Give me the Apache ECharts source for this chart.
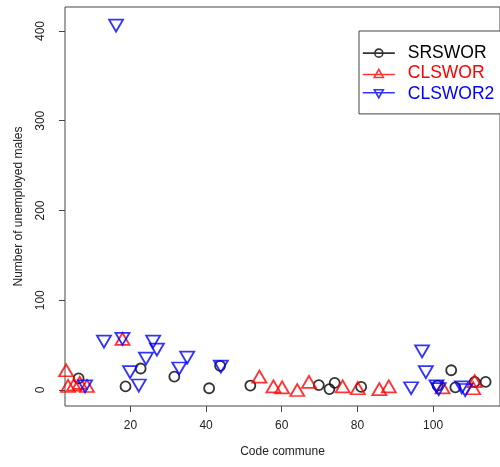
<!DOCTYPE html>
<html>
<head>
<meta charset="utf-8">
<script src="https://cdn.jsdelivr.net/npm/echarts@6/dist/echarts.min.js"></script>
<style>
  html, body { margin: 0; padding: 0; background: #fff; }
  #chart { width: 500px; height: 467px; }
</style>
</head>
<body>
<div id="chart"></div>
<script>
// ---- data (code commune, number of unemployed males) ----
var seriesNames = ['SRSWOR', 'CLSWOR', 'CLSWOR2'];
var srswor = [
    [6.3, 13], [18.7, 4], [22.7, 24], [31.6, 15], [40.8, 2], [43.7, 27],
    [51.7, 5], [69.8, 5.5], [72.6, 1], [74, 8], [81, 3.5], [101.2, 5],
    [104.8, 22], [105.9, 3], [111, 9], [113.9, 9]
];
var clswor = [
    [3.0, 22], [3.5, 4.5], [5.1, 6], [6.6, 8], [8.5, 4.5], [17.9, 57],
    [54.1, 15], [57.8, 4], [60.1, 3], [64.1, 0], [67.2, 9], [76.1, 4],
    [80.1, 2], [85.8, 1], [88.3, 4], [102.5, 3], [110.6, 2], [111, 10]
];
var clswor2 = [
    [16.2, 406], [13, 54], [17.9, 57], [8, 4], [19.9, 20], [22.2, 5],
    [24.1, 35], [26, 54], [27, 45], [32.9, 24], [35, 36], [43.9, 26],
    [94.2, 2], [97.1, 43], [98.1, 20], [100.9, 4], [101.5, 1], [107.6, 3],
    [108.5, 0]
];
var xTicks = [20, 40, 60, 80, 100];
var yTicks = [0, 100, 200, 300, 400];

var colors = ['#000000', '#ff0000', '#0000ff'];
var font = 'Liberation Sans, Arial, sans-serif';

// legend icons: line with the marker on it
var legendIcons = [
    'path://M0,4L32,4M20,4A4,4,0,1,1,12,4A4,4,0,1,1,20,4',
    'path://M0,5L32,5M16,0L20.5,8L11.5,8Z',
    'path://M0,3L32,3M11.5,0L20.5,0L16,8Z'
];

var chart = echarts.init(document.getElementById('chart'));

function pointSeries(name, data, i, symbol, size, rotate) {
    return {
        name: name,
        type: 'scatter',
        data: data,
        symbol: symbol,
        symbolSize: size,
        symbolRotate: rotate || 0,
        clip: false,
        itemStyle: { color: 'rgba(0,0,0,0)', borderColor: colors[i], borderWidth: 1.8 },
        emphasis: { disabled: true }
    };
}

chart.setOption({
    animation: false,
    grid: {
        left: 65, top: 7, width: 436, height: 399,
        show: true, borderColor: '#444', borderWidth: 1
    },
    legend: {
        orient: 'vertical',
        left: 359, top: 31,
        padding: [12, 30, 10, 3],
        itemWidth: 32, itemHeight: 8, itemGap: 0,
        borderColor: '#444', borderWidth: 1,
        backgroundColor: '#fff',
        selectedMode: false,
        textStyle: { fontFamily: font, fontSize: 17.5, lineHeight: 20.3, padding: [0, 0, 0, 8] },
        data: seriesNames.map(function (n, i) {
            return {
                name: n,
                icon: legendIcons[i],
                itemStyle: { color: 'rgba(0,0,0,0)', borderColor: colors[i], borderWidth: 1.6 },
                textStyle: { color: colors[i] }
            };
        })
    },
    xAxis: {
        type: 'value',
        min: 2.7, max: 117.7,
        name: 'Code commune',
        nameLocation: 'middle',
        nameGap: 40,
        nameTextStyle: { fontFamily: font, fontSize: 12, color: '#222' },
        axisLine: { show: false, onZero: false },
        axisTick: { customValues: xTicks, length: 6, lineStyle: { color: '#444' } },
        axisLabel: { customValues: xTicks, margin: 14, fontFamily: font, fontSize: 12, color: '#222' },
        splitLine: { show: false }
    },
    yAxis: {
        type: 'value',
        min: -17.8, max: 426.7,
        name: 'Number of unemployed males',
        nameLocation: 'middle',
        nameGap: 40,
        nameTextStyle: { fontFamily: font, fontSize: 12, color: '#222' },
        axisLine: { show: false, onZero: false },
        axisTick: { customValues: yTicks, length: 6, lineStyle: { color: '#444' } },
        axisLabel: { customValues: yTicks, rotate: 90, margin: 18, fontFamily: font, fontSize: 12, color: '#222' },
        splitLine: { show: false }
    },
    series: [
        pointSeries('SRSWOR', srswor, 0, 'circle', 10),
        pointSeries('CLSWOR', clswor, 1, 'triangle', [14, 12]),
        pointSeries('CLSWOR2', clswor2, 2, 'triangle', [14, 12], 180)
    ]
});
</script>
</body>
</html>
